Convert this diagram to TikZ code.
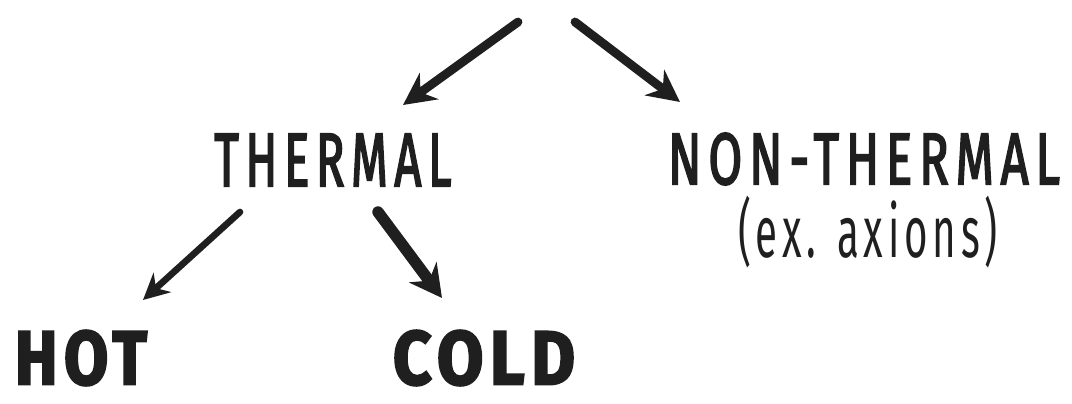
\documentclass[tikz,border=0pt]{standalone}
\usepackage{fontspec}
\usepackage{graphicx}
\setmainfont{Fira Sans}
\usetikzlibrary{arrows.meta, calc}

\begin{document}
\begin{tikzpicture}[
        x=0.02cm, y=-0.02cm,
        word/.style={inner sep=0pt, text=black!88, font=\addfontfeature{LetterSpace=14, FakeBold=3}},
        note/.style={inner sep=0pt, text=black!88, font=\addfontfeature{LetterSpace=12}},
        heavy/.style={inner sep=0pt, text=black!88, font=\bfseries\addfontfeature{LetterSpace=10, FakeBold=3}},
        arrow/.style={-{Stealth[length=0.64cm, width=0.64cm]}, line width=5pt, line cap=round, black!88},
        thinarrow/.style={-{Stealth[length=0.52cm, width=0.52cm]}, line width=3.8pt, line cap=round, black!88},
        fatarrow/.style={-{Stealth[length=0.64cm, width=0.68cm]}, line width=6.5pt, line cap=round, black!88}
    ]
        \useasboundingbox (0,0) rectangle (1072,404);

        \node[word] (thermal) at (333,160) {\resizebox{4.74cm}{1.04cm}{THERMAL}};
        \node[word] (nonthermal) at (864,159) {\resizebox{7.84cm}{1.02cm}{NON-THERMAL}};
        \node[note] (axions) at (868,232) {\resizebox*{5.2cm}{1.44cm}{(ex. axions)}};
        \node[heavy] (hot) at (81,358) {\resizebox{2.64cm}{1.08cm}{HOT}};
        \node[heavy] (cold) at (484,358) {\resizebox{3.64cm}{1.08cm}{COLD}};

        \coordinate (topL) at (518,22);
        \coordinate (topR) at (575,22);

        \draw[arrow] (topL) -- ($(thermal.center)+(70,-55)$);
        \draw[arrow] (topR) -- ($(nonthermal.center)+(-184,-57)$);
        \draw[thinarrow] ($(thermal.center)+(-93,52)$) -- ($(hot.center)+(62,-58)$);
        \draw[fatarrow] ($(thermal.center)+(45,52)$) -- ($(cold.center)+(-42,-60)$);
    \end{tikzpicture}
\end{document}
